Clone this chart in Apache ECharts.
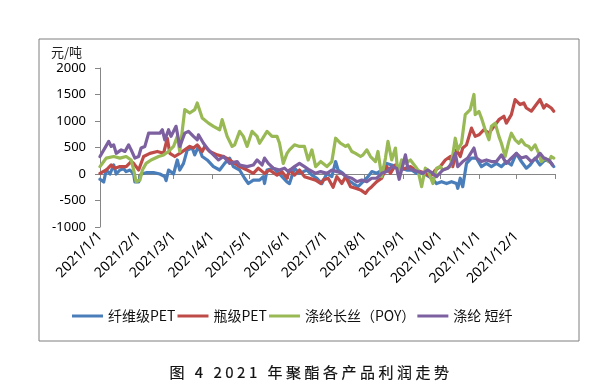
<!DOCTYPE html>
<html>
<head>
<meta charset="utf-8">
<script src="https://cdn.jsdelivr.net/npm/echarts@6/dist/echarts.min.js"></script>
<style>
html,body{margin:0;padding:0;background:#fff;}
#wrap{position:relative;width:593px;height:390px;}
#chart{position:absolute;left:0;top:0;width:593px;height:390px;}
#cap{position:absolute;left:0;top:361px;width:622px;text-align:center;font:15px "Noto Sans CJK SC","Noto Sans",sans-serif;letter-spacing:3.5px;color:#111;line-height:22px;-webkit-text-stroke:0.2px #111;}
</style>
</head>
<body>
<div id="wrap"><div id="chart"></div><div id="cap">图 4 2021 年聚酯各产品利润走势</div></div>
<script>
// Series names
const seriesNames = ['纤维级PET', '瓶级PET', '涤纶长丝（POY）', '涤纶 短纤'];
const yUnit = '元/吨';
// x values: day offset from 2021-01-01
const fiberDays = [0,3,5,8,11,13,16,19,21,24,27,28,31,33,37,43,48,52,53,55,59,62,64,67,70,74,76,79,82,86,91,96,100,104,107,112,116,119,123,128,131,132,134,139,144,150,152,156,160,166,170,174,178,182,186,189,191,195,199,203,207,211,215,218,222,226,230,234,238,242,246,250,254,258,262,266,270,274,278,282,286,287,289,291,294,298,302,306,310,314,318,322,326,330,334,338,342,345,349,353,357,361,364];
const fiberVals = [-100,-150,75,0,170,0,75,100,45,75,0,-150,-150,0,25,25,0,-50,-125,75,0,265,75,200,455,490,360,520,330,265,140,75,200,300,140,75,-80,-180,-115,-115,-50,-180,75,110,0,-150,-180,110,12,75,-20,-80,-180,12,-50,235,75,12,-115,-180,-240,-145,-50,45,12,75,200,170,140,110,75,75,12,12,-20,-80,-180,-145,-180,-145,-180,-270,-80,-240,200,300,300,140,200,140,200,140,235,170,390,235,110,170,300,170,265,235,140];
const bottleDays = [0,5,9,12,16,21,25,27,31,35,40,46,51,54,56,60,64,68,72,75,78,82,84,88,94,99,104,108,112,118,123,127,132,136,142,146,150,152,156,160,164,168,173,177,179,183,187,190,194,197,201,205,209,213,215,218,222,226,230,233,237,241,245,249,253,257,261,265,269,273,277,281,283,286,289,291,294,298,301,304,308,312,314,317,320,324,326,330,333,337,340,342,346,350,353,356,358,362,364];
const bottleVals = [12,75,170,110,140,140,235,200,75,330,390,425,390,675,390,330,390,455,520,490,550,425,520,425,360,330,265,200,140,75,12,110,12,75,-20,45,-80,75,-20,75,-50,-80,-115,-180,-115,-80,-250,-50,-180,-50,-240,-270,-300,-365,-300,-240,-145,-80,140,12,170,75,110,140,75,45,12,-50,75,140,265,330,140,455,330,490,550,865,710,740,835,770,835,930,1025,1090,960,1120,1405,1310,1340,1245,1185,1310,1405,1245,1310,1245,1185];
const poyDays = [0,3,5,11,16,21,25,27,29,32,34,37,41,47,51,55,59,62,64,68,72,76,78,82,87,91,96,98,102,106,108,112,115,118,122,126,128,134,138,142,144,147,150,152,156,160,164,167,170,173,177,182,186,189,193,197,199,202,205,209,211,214,217,221,223,226,229,231,234,237,239,242,245,249,253,255,258,261,263,267,270,273,275,281,283,285,287,290,293,297,300,301,304,306,309,312,314,317,320,322,325,328,330,333,336,338,341,344,346,349,352,354,357,360,362,364];
const poyVals = [140,235,300,330,300,330,265,75,-145,-115,75,200,265,330,360,425,520,710,425,1215,1150,1215,1340,1055,960,900,835,1025,710,520,550,805,710,520,805,710,580,805,710,710,580,200,390,455,550,520,520,265,455,140,235,140,235,675,580,520,550,425,390,330,360,455,330,235,425,-50,300,615,265,490,12,265,200,265,140,75,-240,110,75,-180,110,140,75,140,360,675,455,580,1120,1215,1500,1120,1180,1055,835,645,900,960,710,580,330,615,770,645,580,645,550,520,455,550,390,235,300,235,330,300];
const staDays = [0,7,9,11,13,17,20,23,25,28,31,33,36,39,48,50,52,55,57,61,64,68,71,75,78,79,83,87,91,95,99,104,110,112,118,123,126,130,132,135,139,144,148,151,156,160,164,168,173,177,182,186,190,194,198,202,206,210,214,218,222,226,230,234,238,240,245,247,251,255,259,263,267,270,275,279,282,285,287,291,295,300,302,306,310,314,318,322,326,330,334,338,342,346,350,353,356,360,363];
const staVals = [330,615,520,550,390,455,425,550,455,300,330,490,520,770,770,835,645,835,710,900,520,770,805,710,645,740,580,455,360,265,330,200,235,170,140,170,265,170,300,200,110,75,110,45,140,200,140,75,12,45,12,75,45,12,-50,-80,-145,-115,-145,-80,-80,12,45,140,110,-100,360,110,75,45,12,75,12,-50,75,110,200,390,140,235,300,490,300,235,265,235,235,360,200,300,390,300,330,235,300,390,300,265,170];
const yTicks = {min: -1000, max: 2000, interval: 500};

const colors = ['#4A7EBB', '#BE4B48', '#98B954', '#7D60A0'];
const toDate = d => new Date(2021, 0, 1 + d).getTime();
const pair = (days, vals) => days.map((d, i) => [toDate(d), vals[i]]);
const allData = [pair(fiberDays, fiberVals), pair(bottleDays, bottleVals), pair(poyDays, poyVals), pair(staDays, staVals)];

const chart = echarts.init(document.getElementById('chart'));
const font = '"Noto Sans","Noto Sans CJK SC",sans-serif';
const axisGray = {color: '#868686', width: 1};
chart.setOption({
  animation: false,
  color: colors,
  grid: [
    {left: 100, right: 38, top: 68, bottom: 163, containLabel: false},
    {left: 39, top: 39, width: 540, height: 302, show: true, borderColor: '#7f7f7f', borderWidth: 1, backgroundColor: 'transparent', z: 0}
  ],
  legend: {
    left: 72, top: 309, padding: 0, itemGap: 2, itemWidth: 31, itemHeight: 3, icon: 'rect',
    textStyle: {fontSize: 14, color: '#111', fontFamily: '"Noto Sans CJK SC",sans-serif'},
    data: seriesNames
  },
  xAxis: [{
    type: 'time', gridIndex: 0,
    min: toDate(0), max: new Date(2022, 0, 1).getTime(),
    minInterval: 28 * 864e5, maxInterval: 31 * 864e5,
    axisLine: {lineStyle: axisGray},
    axisTick: {show: true, length: 5, lineStyle: {color: '#868686'}},
    splitLine: {show: false},
    axisLabel: {
      rotate: 45, margin: 7, fontSize: 14, color: '#000', fontFamily: font,
      hideOverlap: false, showMinLabel: true, showMaxLabel: true,
      formatter: v => { const d = new Date(v); return d.getFullYear() === 2021 ? d.getFullYear() + '/' + (d.getMonth() + 1) + '/' + d.getDate() : ''; }
    }
  }, {type: 'value', gridIndex: 1, show: false}],
  yAxis: [{
    type: 'value', gridIndex: 0, min: yTicks.min, max: yTicks.max, interval: yTicks.interval,
    name: yUnit, nameLocation: 'end', nameGap: 9,
    nameTextStyle: {fontSize: 13, color: '#222', align: 'right', padding: [0, 18, 0, 0], fontFamily: '"Noto Sans CJK SC",sans-serif'},
    axisLine: {show: true, lineStyle: axisGray},
    axisTick: {show: true, length: 5, lineStyle: {color: '#868686'}},
    splitLine: {show: false},
    axisLabel: {fontSize: 13, color: '#000', margin: 14, fontFamily: font, formatter: v => String(v)}
  }, {type: 'value', gridIndex: 1, show: false}],
  series: seriesNames.map((n, i) => ({
    name: n, type: 'line', data: allData[i], showSymbol: false, symbol: 'none',
    xAxisIndex: 0, yAxisIndex: 0,
    lineStyle: {width: 3.2, color: colors[i], join: 'round', cap: 'round'}, itemStyle: {color: colors[i]}, z: 2 + i
  }))
});
</script>
</body>
</html>
